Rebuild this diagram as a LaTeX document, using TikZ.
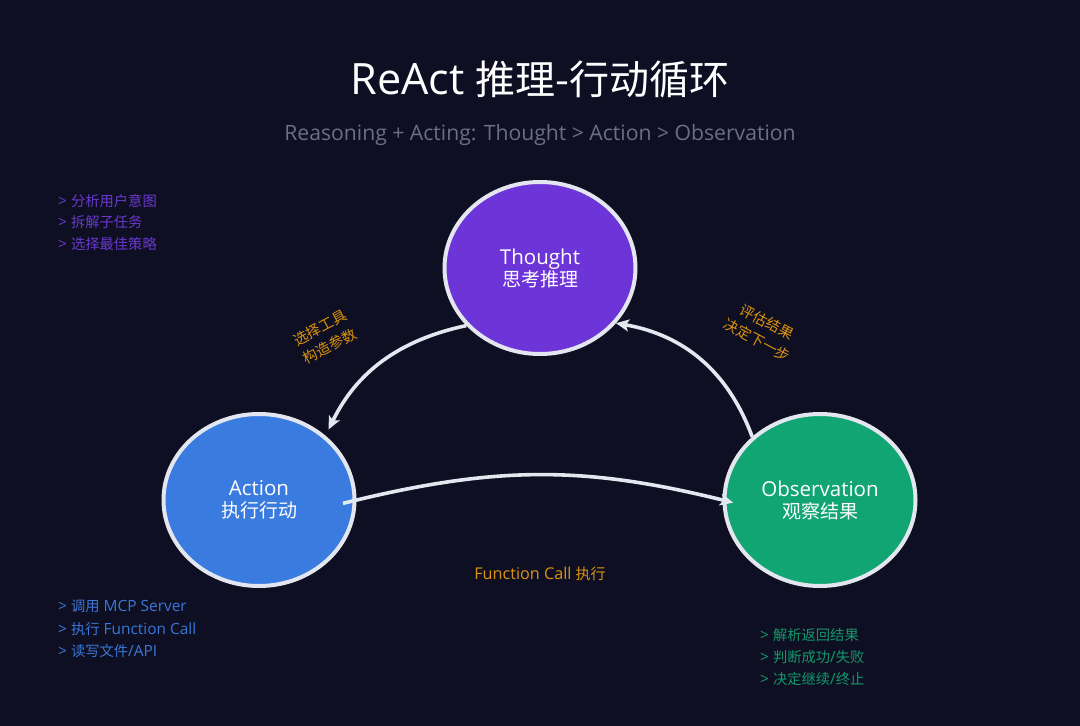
\documentclass[tikz,border=0pt]{standalone}
\usepackage{fontspec}
\setmainfont{Open Sans}[Scale=1.08]
\newfontfamily\cjk{Noto Sans CJK SC}
\usetikzlibrary{shapes.geometric,arrows.meta}
\definecolor{bg}{HTML}{0E0F23}
\definecolor{thoughtc}{HTML}{6D34D8}
\definecolor{actionc}{HTML}{3A7BE0}
\definecolor{obsc}{HTML}{10A572}
\definecolor{rim}{HTML}{E3E6EE}
\definecolor{arrowc}{HTML}{E2E8F0}
\definecolor{labelc}{HTML}{DC920E}
\definecolor{subc}{HTML}{6B7080}
\definecolor{listp}{HTML}{6A38CC}
\definecolor{listb}{HTML}{3A77D6}
\definecolor{listg}{HTML}{12986B}
\tikzset{
  stage/.style={ellipse, draw=rim, line width=4pt, minimum width=191pt, minimum height=172pt, inner sep=0pt, text=white, align=center, font=\fontsize{19}{22}\selectfont},
  flow/.style={draw=arrowc, line width=3.6pt, -{Stealth[length=13pt,width=12pt,inset=3pt]}},
  steplabel/.style={text=labelc, align=center, font=\cjk\fontsize{14.5}{20.5}\selectfont},
  listitem/.style={anchor=west, inner sep=0pt, font=\fontsize{14.3}{16}\selectfont}
}
\begin{document}
\begin{tikzpicture}[x=1pt,y=1pt]
\useasboundingbox (0,0) rectangle (1080,-726);
\fill[bg] (0,0) rectangle (1080,-726);

\node[text=white, font=\fontsize{40}{44}\selectfont] (title) at (540,-79) {ReAct {\cjk 推理-行动循环}};
\node[text=subc, font=\fontsize{19.6}{22}\selectfont] (sub) at (540,-134.5) {Reasoning + Acting: Thought > Action > Observation};

\node[stage, fill=thoughtc] (T) at (540,-268) {Thought\\{\cjk 思考推理}};
\node[stage, fill=actionc] (A) at (259,-500) {Action\\{\cjk 执行行动}};
\node[stage, fill=obsc] (O) at (820,-500) {Observation\\{\cjk 观察结果}};

\draw[flow, shorten >=7pt] (T.218) to[bend right=26] (A.44);
\draw[flow] (O.137) to[bend right=30] (T.-36);
\draw[flow, shorten <=-14pt, shorten >=-11pt] (A.east) to[bend left=14] (O.west);

\node[steplabel, rotate=28] (l1) at (325,-337) {选择工具\\构造参数};
\node[steplabel, rotate=-28] (l2) at (762,-331) {评估结果\\决定下一步};
\node[text=labelc, font=\fontsize{15}{18}\selectfont] (l3) at (540,-574) {Function Call {\cjk 执行}};

\node[listitem, text=listp] (p1) at (58,-201) {> {\cjk 分析用户意图}};
\node[listitem, text=listp] (p2) at (58,-222.5) {> {\cjk 拆解子任务}};
\node[listitem, text=listp] (p3) at (58,-244) {> {\cjk 选择最佳策略}};

\node[listitem, text=listb] (b1) at (58,-606.5) {> {\cjk 调用} MCP Server};
\node[listitem, text=listb] (b2) at (58,-629) {> {\cjk 执行} Function Call};
\node[listitem, text=listb] (b3) at (58,-651) {> {\cjk 读写文件}/API};

\node[listitem, text=listg] (g1) at (760,-635) {> {\cjk 解析返回结果}};
\node[listitem, text=listg] (g2) at (760,-657) {> {\cjk 判断成功}/{\cjk 失败}};
\node[listitem, text=listg] (g3) at (760,-679) {> {\cjk 决定继续}/{\cjk 终止}};
\end{tikzpicture}
\end{document}
